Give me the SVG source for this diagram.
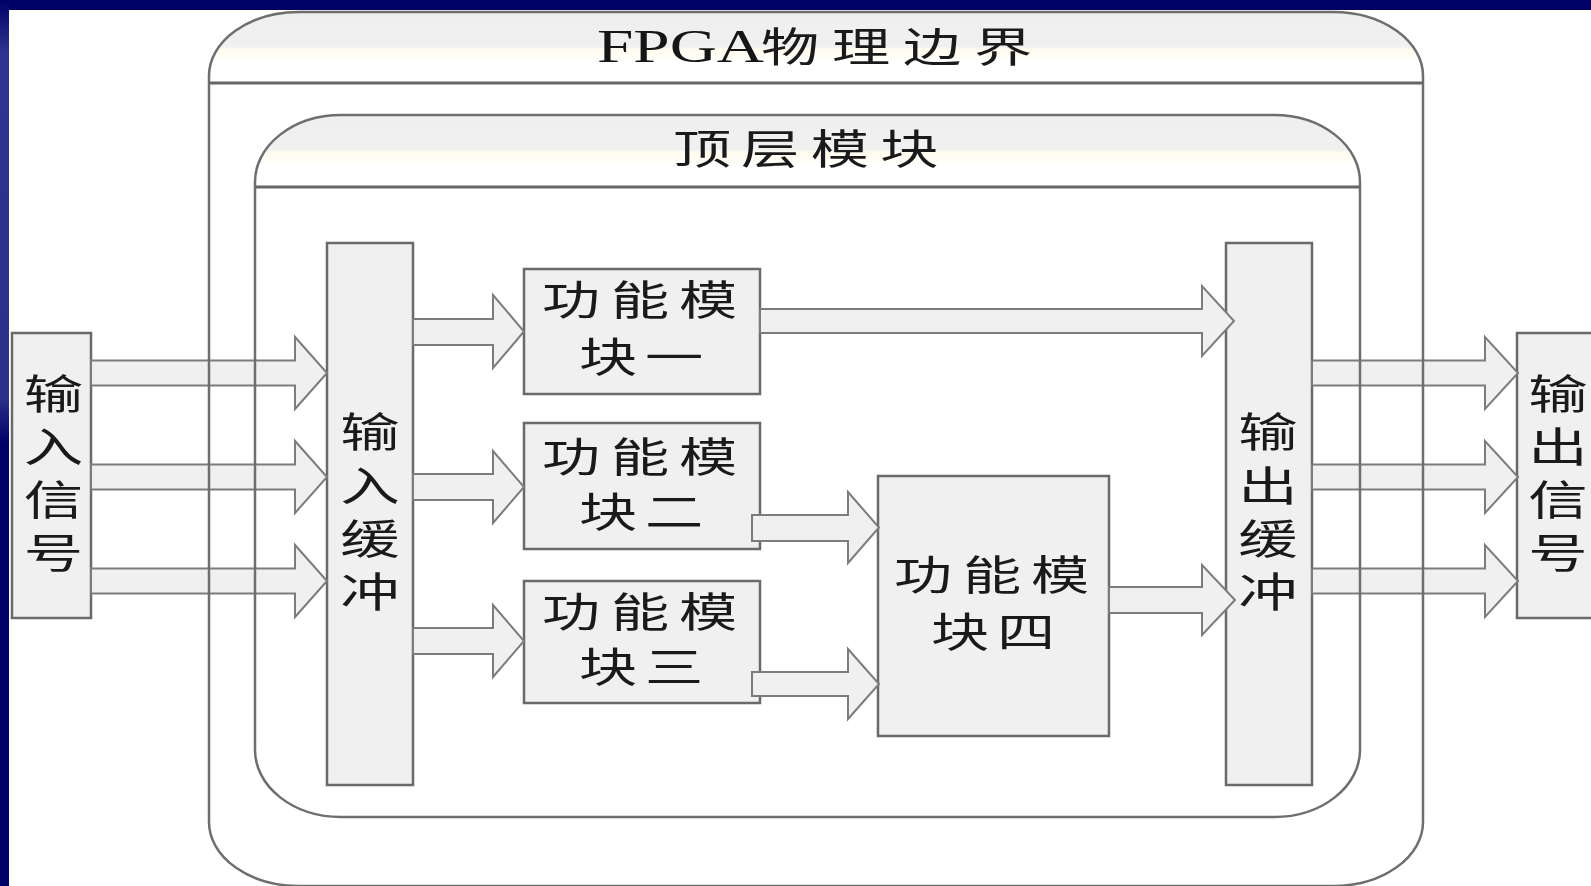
<svg xmlns="http://www.w3.org/2000/svg" width="1591" height="886" viewBox="0 0 1591 886">
  <style>
    .box { fill: #f0f0f0; stroke: #6a6a6a; stroke-width: 2.5; }
    .arrow { fill: #f0f0f0; stroke: #7c7c7c; stroke-width: 2; stroke-linejoin: miter; }
    .frame { fill: none; stroke: #6e6e6e; stroke-width: 2.5; }
    .hline { stroke: #666666; stroke-width: 3; }
    .cjk { font-family: "Noto Sans CJK SC", sans-serif; font-size: 41px; fill: #1a1a1a; text-anchor: middle; }
    .latin { font-family: "Liberation Serif", serif; font-size: 46px; fill: #151515; }
  </style>
  <defs>
    <linearGradient id="hdr" x1="0" y1="0" x2="0" y2="1">
      <stop offset="0" stop-color="#efefef"/>
      <stop offset="0.48" stop-color="#f0f0f0"/>
      <stop offset="0.52" stop-color="#fffcef"/>
      <stop offset="0.62" stop-color="#fffdf5"/>
      <stop offset="0.68" stop-color="#ffffff"/>
      <stop offset="1" stop-color="#ffffff"/>
    </linearGradient>
    <linearGradient id="side" x1="0" y1="0" x2="0" y2="1">
      <stop offset="0" stop-color="#000066"/>
      <stop offset="0.06" stop-color="#2f3590"/>
      <stop offset="0.45" stop-color="#2a3088"/>
      <stop offset="0.5" stop-color="#000066"/>
      <stop offset="1" stop-color="#000066"/>
    </linearGradient>
  </defs>

  <!-- slide background -->
  <rect x="0" y="0" width="1591" height="886" fill="#000066"/>
  <rect x="0" y="0" width="9" height="886" fill="url(#side)"/>
  <rect x="9" y="10" width="1582" height="876" fill="#ffffff"/>

  <!-- frame header fills -->
  <path d="M209,84 L209,76 A90,64 0 0 1 299,12 L1333,12 A90,64 0 0 1 1423,76 L1423,84 Z" fill="url(#hdr)"/>
  <path d="M255,187 L255,182 A86,67 0 0 1 341,115 L1274,115 A86,67 0 0 1 1360,182 L1360,187 Z" fill="url(#hdr)"/>

  <g id="input-signal">
    <rect class="box" x="12" y="333" width="79" height="285"/>
    <text class="cjk" transform="translate(53.5,0) scale(1.45,1)" x="0 0 0 0" y="409 462 515 568">输入信号</text>
  </g>

  <g id="input-buffer">
    <rect class="box" x="327" y="243" width="86" height="542"/>
    <text class="cjk" transform="translate(370,0) scale(1.45,1)" x="0 0 0 0" y="447 501 554 607">输入缓冲</text>
  </g>

  <g id="func-module-1">
    <rect class="box" x="524" y="269" width="236" height="125"/>
    <text class="cjk" transform="translate(640,315) scale(1.42,1)" x="-48.6 0 47.9" y="0">功能模</text>
    <text class="cjk" transform="translate(640,372) scale(1.42,1)" x="-22.5 24" y="0">块一</text>
  </g>

  <g id="func-module-2">
    <rect class="box" x="524" y="423" width="236" height="126"/>
    <text class="cjk" transform="translate(640,472) scale(1.42,1)" x="-48.6 0 47.9" y="0">功能模</text>
    <text class="cjk" transform="translate(640,527) scale(1.42,1)" x="-22.5 24" y="0">块二</text>
  </g>

  <g id="func-module-3">
    <rect class="box" x="524" y="581" width="236" height="122"/>
    <text class="cjk" transform="translate(640,627) scale(1.42,1)" x="-48.6 0 47.9" y="0">功能模</text>
    <text class="cjk" transform="translate(640,682) scale(1.42,1)" x="-22.5 24" y="0">块三</text>
  </g>

  <g id="func-module-4">
    <rect class="box" x="878" y="476" width="231" height="260"/>
    <text class="cjk" transform="translate(992,590) scale(1.42,1)" x="-48.6 0 47.9" y="0">功能模</text>
    <text class="cjk" transform="translate(992,647) scale(1.42,1)" x="-22.5 24" y="0">块四</text>
  </g>

  <g id="output-buffer">
    <rect class="box" x="1226" y="243" width="86" height="542"/>
    <text class="cjk" transform="translate(1268,0) scale(1.45,1)" x="0 0 0 0" y="447 501 554 607">输出缓冲</text>
  </g>

  <g id="output-signal">
    <rect class="box" x="1517" y="333" width="90" height="285"/>
    <text class="cjk" transform="translate(1558,0) scale(1.45,1)" x="0 0 0 0" y="409 462 515 568">输出信号</text>
  </g>

  <!-- connectors -->
  <g id="connectors">
    <path class="arrow" d="M91,360.5 L295,360.5 L295,337 L327,373 L295,409 L295,385.5 L91,385.5 Z"/>
    <path class="arrow" d="M91,464.5 L295,464.5 L295,441 L327,477 L295,513 L295,489.5 L91,489.5 Z"/>
    <path class="arrow" d="M91,568.5 L295,568.5 L295,545 L327,581 L295,617 L295,593.5 L91,593.5 Z"/>

    <path class="arrow" d="M413,319 L493,319 L493,295 L524,331.5 L493,368 L493,345 L413,345 Z"/>
    <path class="arrow" d="M413,474 L493,474 L493,451 L524,487 L493,523 L493,500 L413,500 Z"/>
    <path class="arrow" d="M413,628 L493,628 L493,605 L524,641 L493,677 L493,654 L413,654 Z"/>

    <path class="arrow" d="M760,309 L1202,309 L1202,286 L1234,321 L1202,356 L1202,333 L760,333 Z"/>
    <path class="arrow" d="M752,515 L848,515 L848,492 L879,527.5 L848,563 L848,541 L752,541 Z"/>
    <path class="arrow" d="M752,672 L848,672 L848,649 L879,684 L848,719 L848,696 L752,696 Z"/>
    <path class="arrow" d="M1109,587 L1202,587 L1202,565 L1235,600 L1202,635 L1202,613 L1109,613 Z"/>

    <path class="arrow" d="M1312,360.5 L1485,360.5 L1485,337 L1518,373 L1485,409 L1485,385.5 L1312,385.5 Z"/>
    <path class="arrow" d="M1312,464.5 L1485,464.5 L1485,441 L1518,477 L1485,513 L1485,489.5 L1312,489.5 Z"/>
    <path class="arrow" d="M1312,568.5 L1485,568.5 L1485,545 L1518,581 L1485,617 L1485,593.5 L1312,593.5 Z"/>
  </g>

  <!-- FPGA physical boundary -->
  <g id="fpga-boundary">
    <path class="frame" d="M299,12 L1333,12 A90,64 0 0 1 1423,76 L1423,822 A90,64 0 0 1 1333,886 L299,886 A90,64 0 0 1 209,822 L209,76 A90,64 0 0 1 299,12 Z"/>
    <line class="hline" x1="209" y1="83" x2="1423" y2="83"/>
    <text class="latin" transform="translate(597,62) scale(1.42,1)" x="0" y="0">FPGA</text>
    <text class="cjk" font-size="40" transform="translate(896,62) scale(1.42,1)" x="-74.6 -24.6 25.4 75.4" y="0">物理边界</text>
  </g>

  <!-- top-level module -->
  <g id="top-module">
    <path class="frame" d="M341,115 L1274,115 A86,67 0 0 1 1360,182 L1360,750 A86,67 0 0 1 1274,817 L341,817 A86,67 0 0 1 255,750 L255,182 A86,67 0 0 1 341,115 Z"/>
    <line class="hline" stroke="#777" x1="255" y1="187" x2="1360" y2="187"/>
    <text class="cjk" transform="translate(805,164) scale(1.42,1)" x="-72.5 -24.5 24.5 73.5" y="0">顶层模块</text>
  </g>
</svg>
